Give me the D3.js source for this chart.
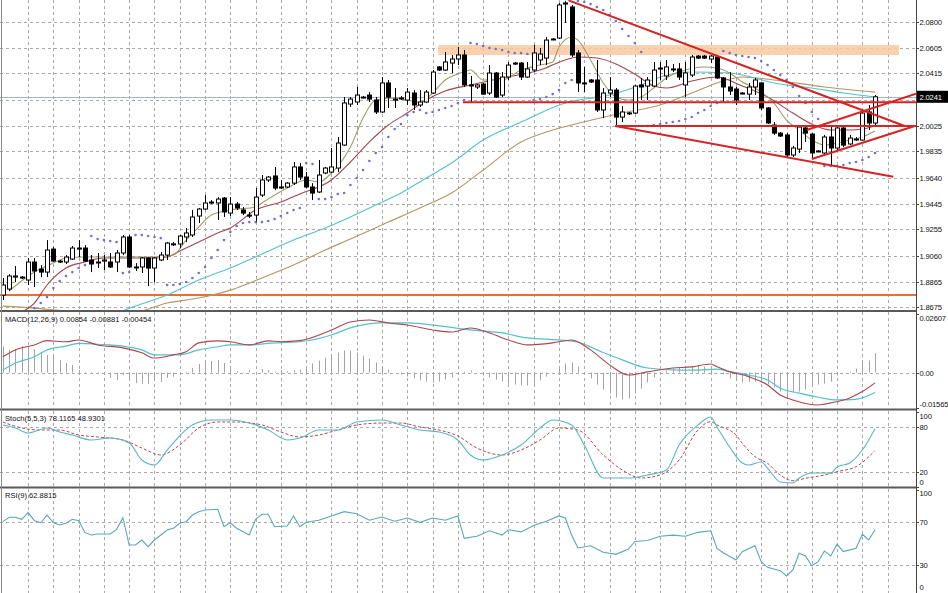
<!DOCTYPE html>
<meta charset="utf-8">
<script src="https://d3js.org/d3.v7.min.js"></script>
<style>
  body {margin: 0; background: #fff;}
  svg {display: block; font-family: "Liberation Sans", Arial, sans-serif;}
</style>
<div id="chart"></div>
<script>

// ---- price bars (daily candles, oldest first) ----
var opens = [1.8766,1.8811,1.8900,1.8900,1.8878,1.9012,1.8960,1.8937,1.9108,1.9019,1.9012,1.9034,1.9108,1.9116,1.9027,1.9012,1.9019,1.9012,1.9012,1.9079,
  1.9198,1.8975,1.8975,1.9042,1.8967,1.9027,1.9064,1.9146,1.9146,1.9198,1.9213,1.9354,1.9406,1.9458,1.9451,1.9488,1.9376,1.9443,1.9399,1.9361,
  1.9361,1.9510,1.9622,1.9652,1.9570,1.9570,1.9599,1.9719,1.9644,1.9570,1.9533,1.9674,1.9681,1.9711,1.9882,2.0187,2.0202,2.0239,2.0254,2.0217,
  2.0128,2.0344,2.0224,2.0232,2.0217,2.0269,2.0180,2.0202,2.0269,2.0463,2.0440,2.0492,2.0522,2.0552,2.0329,2.0314,2.0336,2.0269,2.0418,2.0254,
  2.0388,2.0492,2.0492,2.0388,2.0440,2.0515,2.0529,2.0671,2.0678,2.0939,2.0909,2.0567,2.0344,2.0366,2.0366,2.0143,2.0269,2.0291,2.0090,2.0120,
  2.0120,2.0329,2.0321,2.0321,2.0455,2.0396,2.0448,2.0448,2.0329,2.0403,2.0544,2.0544,2.0522,2.0537,2.0381,2.0314,2.0299,2.0269,2.0261,2.0314,
  2.0344,2.0158,2.0031,1.9971,1.9957,1.9808,1.9852,2.0009,1.9964,1.9838,1.9823,1.9942,1.9860,2.0009,1.9890,1.9927,1.9919,2.0128,2.0046];
var highs = [1.8893,1.8922,1.8982,1.8908,1.9042,1.9042,1.8989,1.9175,1.9123,1.9027,1.9064,1.9131,1.9175,1.9138,1.9064,1.9079,1.9064,1.9079,1.9101,1.9213,
  1.9213,1.9004,1.9049,1.9049,1.9049,1.9086,1.9161,1.9161,1.9213,1.9265,1.9399,1.9414,1.9510,1.9473,1.9495,1.9495,1.9495,1.9458,1.9421,1.9384,
  1.9562,1.9659,1.9652,1.9719,1.9622,1.9607,1.9756,1.9748,1.9681,1.9599,1.9771,1.9719,1.9860,1.9942,2.0239,2.0239,2.0314,2.0247,2.0276,2.0239,
  2.0388,2.0366,2.0306,2.0247,2.0306,2.0291,2.0291,2.0291,2.0440,2.0470,2.0574,2.0552,2.0611,2.0589,2.0396,2.0336,2.0344,2.0477,2.0425,2.0425,
  2.0500,2.0500,2.0500,2.0500,2.0626,2.0604,2.0686,2.0678,2.0939,2.0954,2.0924,2.0589,2.0463,2.0373,2.0515,2.0306,2.0388,2.0306,2.0172,2.0128,
  2.0329,2.0381,2.0388,2.0500,2.0500,2.0515,2.0485,2.0492,2.0500,2.0552,2.0552,2.0552,2.0552,2.0552,2.0388,2.0425,2.0314,2.0276,2.0344,2.0381,
  2.0351,2.0165,2.0053,1.9979,1.9971,1.9875,2.0024,2.0016,1.9971,1.9845,1.9957,2.0016,2.0031,2.0024,1.9957,1.9942,2.0128,2.0180,2.0254];
var lows = [1.8729,1.8796,1.8863,1.8885,1.8841,1.8826,1.8900,1.8900,1.9012,1.9004,1.8997,1.9027,1.9049,1.9012,1.8937,1.8967,1.8952,1.8967,1.8937,1.9064,
  1.8967,1.8945,1.8930,1.8833,1.8863,1.9019,1.9027,1.9131,1.9116,1.9161,1.9198,1.9302,1.9399,1.9443,1.9324,1.9347,1.9354,1.9399,1.9361,1.9339,
  1.9302,1.9495,1.9607,1.9547,1.9555,1.9562,1.9585,1.9622,1.9562,1.9473,1.9525,1.9666,1.9674,1.9681,1.9875,2.0165,2.0180,2.0232,2.0202,2.0113,
  2.0120,2.0158,2.0158,2.0217,2.0180,2.0143,2.0165,2.0195,2.0261,2.0433,2.0433,2.0418,2.0477,2.0314,2.0202,2.0299,2.0254,2.0254,2.0232,2.0239,
  2.0366,2.0477,2.0366,2.0381,2.0425,2.0477,2.0477,2.0663,2.0671,2.0790,2.0537,2.0276,2.0276,2.0344,2.0128,2.0083,2.0239,2.0016,2.0053,2.0106,
  2.0113,2.0217,2.0217,2.0314,2.0366,2.0366,2.0425,2.0366,2.0239,2.0388,2.0522,2.0522,2.0492,2.0373,2.0195,2.0254,2.0180,2.0261,2.0217,2.0254,
  2.0143,2.0038,1.9957,1.9942,1.9793,1.9793,1.9823,1.9905,1.9778,1.9830,1.9815,1.9734,1.9845,1.9867,1.9882,1.9912,1.9915,1.9994,2.0031];
var closes = [1.8841,1.8908,1.8908,1.8893,1.9012,1.8945,1.8937,1.9101,1.9019,1.9012,1.9049,1.9116,1.9116,1.9019,1.8997,1.9010,1.9027,1.8975,1.9079,1.9198,
  1.8975,1.8973,1.9042,1.8967,1.9042,1.9064,1.9153,1.9147,1.9205,1.9228,1.9347,1.9406,1.9451,1.9457,1.9480,1.9384,1.9443,1.9414,1.9376,1.9360,
  1.9495,1.9622,1.9644,1.9562,1.9569,1.9599,1.9719,1.9644,1.9570,1.9525,1.9659,1.9711,1.9719,1.9897,2.0195,2.0224,2.0254,2.0238,2.0224,2.0128,
  2.0344,2.0239,2.0223,2.0231,2.0276,2.0180,2.0202,2.0276,2.0425,2.0440,2.0500,2.0522,2.0552,2.0329,2.0328,2.0329,2.0261,2.0418,2.0239,2.0388,
  2.0477,2.0491,2.0388,2.0448,2.0567,2.0559,2.0663,2.0670,2.0924,2.0931,2.0552,2.0344,2.0343,2.0351,2.0143,2.0269,2.0291,2.0090,2.0128,2.0121,
  2.0321,2.0314,2.0366,2.0440,2.0454,2.0463,2.0447,2.0388,2.0418,2.0537,2.0529,2.0529,2.0544,2.0381,2.0314,2.0284,2.0217,2.0268,2.0314,2.0366,
  2.0158,2.0046,1.9971,1.9949,1.9808,1.9860,2.0016,1.9971,1.9823,1.9837,1.9942,1.9860,2.0009,1.9882,1.9934,1.9926,2.0120,2.0046,2.0241];

// parabolic SAR, one dot per bar
var sar = [1.8506,1.8543,1.8581,1.8610,1.8640,1.8669,1.8707,1.8751,1.8818,1.8870,1.8908,1.8937,1.8967,1.8989,1.9205,1.9183,1.9175,1.9168,1.9161,1.8930,
  1.8937,1.9213,1.9213,1.9205,1.9198,1.9190,1.8841,1.8841,1.8848,1.8863,1.8893,1.8930,1.8975,1.9042,1.9101,1.9175,1.9235,1.9280,1.9302,1.9309,
  1.9309,1.9309,1.9317,1.9332,1.9354,1.9376,1.9399,1.9414,1.9748,1.9741,1.9480,1.9480,1.9495,1.9518,1.9525,1.9585,1.9637,1.9696,1.9763,1.9823,
  1.9867,1.9942,2.0001,2.0038,2.0106,2.0128,2.0143,2.0120,2.0128,2.0143,2.0158,2.0172,2.0195,2.0217,2.0641,2.0634,2.0619,2.0604,2.0597,2.0589,
  2.0574,2.0567,2.0567,2.0559,2.0217,2.0224,2.0239,2.0261,2.0291,2.0344,2.0366,2.0954,2.0946,2.0931,2.0909,2.0887,2.0849,2.0805,2.0745,2.0693,
  2.0641,2.0574,2.0024,2.0031,2.0038,2.0046,2.0053,2.0061,2.0076,2.0091,2.0120,2.0143,2.0172,2.0195,2.0582,2.0567,2.0552,2.0544,2.0537,2.0529,
  2.0507,2.0477,2.0440,2.0403,2.0366,2.0314,2.0247,2.0195,2.0128,2.0076,1.9726,1.9726,1.9726,1.9734,1.9748,1.9756,1.9771,1.9793,1.9823];

// moving averages, read as [bar, price]
var maFast = [[1,1.8796],[5,1.8937],[8,1.9004],[10,1.9042],[13,1.9049],[16,1.9049],[20,1.9049],[24,1.9049],[27,1.9064],[29,1.9175],[31,1.9272],[33,1.9361],
  [36,1.9399],[40,1.9421],[41,1.9451],[45,1.9562],[48,1.9622],[50,1.9607],[52,1.9674],[55,1.9867],[57,2.0083],[59,2.0217],[62,2.0232],[66,2.0202],
  [68,2.0269],[70,2.0366],[72,2.0410],[74,2.0440],[76,2.0366],[79,2.0366],[82,2.0440],[85,2.0477],[87,2.0500],[88,2.0611],[90,2.0686],[91,2.0663],
  [93,2.0515],[95,2.0344],[97,2.0239],[99,2.0217],[101,2.0239],[103,2.0306],[105,2.0381],[107,2.0425],[111,2.0463],[113,2.0455],[115,2.0418],
  [117,2.0351],[119,2.0306],[122,2.0195],[124,2.0068],[126,1.9994],[128,1.9919],[130,1.9882],[132,1.9897],[134,1.9919],[136,1.9942],[138,1.9986]];
var maMid = [[0,1.8595],[3,1.8640],[5,1.8707],[7,1.8841],[10,1.8967],[13,1.9012],[16,1.9042],[20,1.9042],[24,1.9042],[26,1.9049],[28,1.9094],[31,1.9161],
  [34,1.9228],[36,1.9265],[40,1.9399],[44,1.9458],[47,1.9518],[52,1.9622],[55,1.9756],[58,1.9905],[61,2.0031],[64,2.0120],[67,2.0217],[70,2.0284],
  [74,2.0329],[79,2.0381],[85,2.0440],[89,2.0515],[91,2.0537],[94,2.0529],[97,2.0485],[100,2.0410],[103,2.0321],[105,2.0306],[109,2.0358],[113,2.0388],
  [117,2.0321],[121,2.0239],[125,2.0120],[128,2.0038],[131,1.9994],[134,1.9994],[136,2.0001],[138,2.0024]];
var maSlow = [[0,1.8506],[10,1.8543],[17,1.8618],[21,1.8684],[26,1.8766],[31,1.8878],[36,1.8967],[41,1.9071],[46,1.9175],[51,1.9265],[55,1.9347],
  [59,1.9436],[63,1.9525],[67,1.9637],[71,1.9748],[76,1.9919],[82,2.0053],[89,2.0195],[96,2.0254],[101,2.0329],[104,2.0388],[109,2.0425],[115,2.0418],
  [117,2.0403],[122,2.0344],[128,2.0306],[133,2.0269],[138,2.0239]];
var maLong = [[0,1.8684],[5,1.8669],[10,1.8648],[16,1.8633],[21,1.8640],[26,1.8707],[31,1.8744],[36,1.8803],[41,1.8893],[46,1.8989],[51,1.9101],
  [55,1.9183],[61,1.9309],[66,1.9414],[71,1.9525],[76,1.9696],[82,1.9905],[87,1.9994],[90,2.0031],[98,2.0120],[104,2.0180],[109,2.0269],[113,2.0344],
  [117,2.0388],[122,2.0366],[130,2.0314],[138,2.0276]];

// drawn objects
var trendLines = [
  [[89.5,2.0958],[142.7,2.0024]],
  [[72.8,2.0200],[144.5,2.0200]],
  [[96.9,2.0024],[144.5,2.0024]],
  [[96.9,2.0024],[140.9,1.9646]],
  [[127.2,1.9994],[144.5,2.0264]],
  [[128.0,1.9778],[144.3,2.0024]]
];
var zoneBars = [68.9, 141.8], zonePrices = [2.0552, 2.0626];
var supportLevel = 1.8766;
var lastPrice = 2.0241;
var priceTicks = [2.0800,2.0605,2.0415,2.0220,2.0025,1.9835,1.9640,1.9445,1.9255,1.9060,1.8865,1.8675];

// MACD(12,26,9)
var macdHist = [0.0115,0.0100,0.0104,0.0117,0.0117,0.0104,0.0091,0.0078,0.0078,0.0056,0.0042,0.0034,0.0011,0.0003,-0.0002,-0.0002,-0.0011,-0.0024,-0.0033,-0.0011,
  -0.0024,-0.0046,-0.0050,-0.0050,-0.0037,-0.0041,-0.0024,-0.0019,-0.0011,0.0003,0.0020,0.0038,0.0047,0.0051,0.0056,0.0042,0.0020,0.0007,-0.0002,0.0011,
  0.0003,0.0016,0.0011,0.0003,0.0011,0.0007,0.0011,0.0013,0.0026,0.0040,0.0053,0.0066,0.0079,0.0088,0.0097,0.0097,0.0088,0.0075,0.0062,0.0044,
  0.0026,0.0013,0,-0.0009,-0.0018,-0.0026,-0.0035,-0.0040,-0.0044,-0.0040,-0.0031,-0.0022,-0.0009,0.0004,0.0009,0,-0.0013,-0.0022,-0.0031,-0.0040,
  -0.0049,-0.0053,-0.0057,-0.0057,-0.0049,-0.0035,-0.0018,0,0.0022,0.0040,0.0044,0.0026,0,-0.0026,-0.0053,-0.0075,-0.0093,-0.0110,-0.0119,-0.0115,
  -0.0093,-0.0071,-0.0044,-0.0022,-0.0004,0.0009,0.0018,0.0022,0.0022,0.0026,0.0031,0.0026,0.0013,0,-0.0009,-0.0026,-0.0035,-0.0044,-0.0040,-0.0040,
  -0.0044,-0.0053,-0.0066,-0.0084,-0.0110,-0.0088,-0.0084,-0.0075,-0.0062,-0.0053,-0.0049,-0.0040,-0.0013,0,0.0004,0.0018,0.0053,0.0053,0.00854];
var macdMain = [[0,0.0070],[2,0.0100],[5,0.0122],[7,0.0141],[10,0.0136],[12,0.0144],[15,0.0122],[19,0.0109],[22,0.0087],[24,0.0064],[27,0.0078],[29,0.0092],
  [31,0.0131],[34,0.0140],[36,0.0136],[39,0.0122],[42,0.0140],[44,0.0136],[47,0.0141],[52,0.0188],[55,0.0223],[58,0.0232],[61,0.0219],[64,0.0210],
  [68,0.0188],[71,0.0179],[74,0.0197],[77,0.0175],[80,0.0144],[83,0.0122],[87,0.0131],[90,0.0144],[93,0.0100],[96,0.0034],[99,-0.0011],[102,0.0003],
  [106,0.0020],[109,0.0025],[112,0.0038],[113,0.0026],[115,0.0004],[118,-0.0018],[121,-0.0055],[123,-0.0099],[125,-0.0121],[129,-0.0143],[131,-0.0134],
  [134,-0.0112],[136,-0.0084],[138,-0.00454]];
var macdSignal = [[0,0.0011],[2,0.0042],[5,0.0070],[7,0.0100],[10,0.0117],[12,0.0129],[15,0.0125],[19,0.0117],[22,0.0100],[24,0.0078],[28,0.0078],
  [31,0.0100],[34,0.0114],[36,0.0122],[39,0.0122],[42,0.0129],[47,0.0136],[52,0.0166],[55,0.0197],[60,0.0219],[64,0.0219],[69,0.0206],[74,0.0188],
  [79,0.0175],[83,0.0153],[88,0.0144],[91,0.0135],[94,0.0100],[98,0.0056],[102,0.0020],[107,0.0011],[110,0.0011],[113,0.0015],[115,0.0004],
  [118,-0.0011],[121,-0.0033],[123,-0.0069],[126,-0.0091],[129,-0.0109],[132,-0.0121],[135,-0.0118],[138,-0.00881]];

// Stochastic(5,5,3)
var stochMain = [[0,83.1],[2,79.1],[4,72.4],[7,79.1],[9,73.7],[11,69.7],[14,63.1],[17,65.7],[20,59.1],[22,36.4],[24,29.7],[26,49.7],[30,83.1],[33,89.7],
  [36,89.7],[39,85.7],[42,76.4],[45,63.1],[47,65.7],[50,76.4],[53,76.4],[56,87.1],[60,89.7],[63,83.1],[66,76.4],[69,73.7],[72,63.1],[74,43.1],[76,36.4],
  [79,43.1],[82,56.4],[85,79.1],[87,89.7],[90,83.1],[92,56.4],[95,12.4],[97,12.4],[99,12.4],[102,16.4],[105,23.1],[107,56.4],[110,83.1],[112,93.7],
  [113,80.4],[115,53.7],[117,32.4],[118,29.7],[120,33.7],[121,25.7],[123,7.1],[125,5.7],[126,12.4],[128,19.1],[131,19.1],[132,27.1],[134,32.4],
  [136,49.7],[138,78.1165]];
var stochSignal = [[0,87.1],[3,79.1],[6,76.4],[9,76.4],[12,69.7],[15,67.1],[19,63.1],[22,52.4],[25,43.1],[28,56.4],[31,79.1],[34,87.1],[37,87.1],[41,83.1],
  [44,73.7],[47,67.1],[50,69.7],[53,76.4],[56,83.1],[60,85.7],[63,85.7],[66,80.4],[69,76.4],[72,68.4],[75,52.4],[79,43.1],[82,49.7],[85,63.1],[88,79.1],
  [91,76.4],[95,43.1],[98,23.1],[101,12.4],[104,16.4],[107,36.4],[110,76.4],[112,87.5],[113,83.1],[116,69.7],[117,58.7],[119,40.9],[121,32.0],
  [123,16.4],[125,8.8],[127,12.0],[130,16.4],[132,20.8],[135,27.5],[138,48.9301]];

// RSI(9)
var rsi = [[0,70.6],[1,74.7],[2,74.7],[3,72.8],[4,79.0],[5,71.5],[6,69.6],[7,76.8],[8,69.6],[9,67.5],[10,69.1],[11,72.8],[12,71.5],[13,60.3],[14,58.1],
  [15,59.0],[17,59.0],[18,63.4],[19,74.3],[20,48.7],[21,48.7],[22,53.4],[23,47.1],[24,53.4],[26,62.8],[27,64.4],[28,69.1],[29,70.6],[30,76.8],[31,79.9],
  [32,81.5],[34,82.2],[35,65.9],[36,69.6],[37,64.4],[39,58.1],[40,72.8],[41,77.5],[42,77.5],[43,65.9],[45,66.5],[46,75.9],[47,65.9],[48,70],[50,72],
  [52,76],[54,80],[56,78],[58,72],[60,75],[62,71],[64,74],[66,70],[68,74],[70,72],[72,76],[73,55],[75,57],[77,62],[79,58],[80,63],[82,61],[84,67],
  [86,71],[88,76],[89,74],[90,58],[91,46],[93,48],[95,42],[97,40],[99,45],[100,52],[102,53],[104,57],[106,58],[108,57],[110,60.6],[112,62.1],
  [113,45.6],[114,41.5],[116,34.7],[117,42.5],[119,48.1],[120,33.1],[121,27.8],[123,24.7],[124,19.7],[125,25.3],[126,41.0],[127,38.4],[128,29.3],
  [129,33.1],[130,43.1],[131,38.4],[132,49.4],[133,42.5],[135,45.6],[136,58.8],[137,53.4],[138,62.8815]];

// ---- layout ----
var W = 948, H = 593, axisX = 916;
var svg = d3.select("#chart").append("svg")
  .attr("width", W).attr("height", H);

var x = d3.scaleLinear().domain([0, 138]).range([2.8, 875]);
var yMain = d3.scaleLinear().domain([1.8655, 2.0961]).range([310, 0]);
var yMacd = d3.scaleLinear().domain([-0.01565, 0.02607]).range([408, 313.5]);
var yStoch = d3.scaleLinear().domain([0, 100]).range([487.3, 412.3]);
var yRsi = d3.scaleLinear().domain([0, 100]).range([597, 490.3]);

var panels = [
  {id: "pMain", top: 0, bottom: 310},
  {id: "pMacd", top: 312, bottom: 408},
  {id: "pStoch", top: 411, bottom: 486},
  {id: "pRsi", top: 489, bottom: 593}
];
var defs = svg.append("defs");
panels.forEach(function(p) {
  defs.append("clipPath").attr("id", p.id)
    .append("rect").attr("x", 0).attr("y", p.top).attr("width", axisX).attr("height", p.bottom - p.top);
});

var gridColor = "#a9a9a9";
function crisp(v) { return Math.round(v) + 0.5; }

// vertical grid, every 4 bars
var gridBars = d3.range(4, 141, 4);
panels.forEach(function(p) {
  svg.append("g").selectAll("line").data(gridBars).enter().append("line")
    .attr("x1", function(d) { return crisp(x(d)); })
    .attr("x2", function(d) { return crisp(x(d)); })
    .attr("y1", p.top).attr("y2", p.bottom)
    .attr("stroke", gridColor).attr("stroke-dasharray", "3,3");
});

// horizontal grid
function hGrid(vals, scale) {
  svg.append("g").selectAll("line").data(vals).enter().append("line")
    .attr("x1", 0).attr("x2", axisX)
    .attr("y1", function(d) { return crisp(scale(d)); })
    .attr("y2", function(d) { return crisp(scale(d)); })
    .attr("stroke", gridColor).attr("stroke-dasharray", "3,3");
}
hGrid(priceTicks, yMain);
hGrid([0], yMacd);
hGrid([80, 20], yStoch);
hGrid([70, 30], yRsi);

// ---- main panel ----
var main = svg.append("g").attr("clip-path", "url(#pMain)");

// resistance zone
main.append("rect")
  .attr("x", x(zoneBars[0])).attr("width", x(zoneBars[1]) - x(zoneBars[0]))
  .attr("y", yMain(zonePrices[1])).attr("height", yMain(zonePrices[0]) - yMain(zonePrices[1]))
  .attr("fill", "#f8c9a0").attr("opacity", 0.85);

// support line and last price line
main.append("line").attr("x1", 0).attr("x2", axisX)
  .attr("y1", yMain(supportLevel)).attr("y2", yMain(supportLevel))
  .attr("stroke", "#e2703a").attr("stroke-width", 2);
main.append("line").attr("x1", 0).attr("x2", axisX)
  .attr("y1", crisp(yMain(lastPrice))).attr("y2", crisp(yMain(lastPrice)))
  .attr("stroke", "#a9b3bd");

// moving averages
var maLine = d3.line()
  .x(function(d) { return x(d[0]); })
  .y(function(d) { return yMain(d[1]); })
  .curve(d3.curveMonotoneX);
[[maLong, "#b89463"], [maSlow, "#52c2cc"], [maMid, "#a2464c"], [maFast, "#9c9c6c"]].forEach(function(m) {
  main.append("path").datum(m[0]).attr("d", maLine)
    .attr("fill", "none").attr("stroke", m[1]).attr("stroke-width", 1.1);
});

// candles
var bars = d3.range(opens.length);
main.append("g").selectAll("line").data(bars).enter().append("line")
  .attr("x1", function(i) { return crisp(x(i)); })
  .attr("x2", function(i) { return crisp(x(i)); })
  .attr("y1", function(i) { return yMain(highs[i]); })
  .attr("y2", function(i) { return yMain(lows[i]); })
  .attr("stroke", "#000");
main.append("g").selectAll("rect").data(bars).enter().append("rect")
  .attr("x", function(i) { return Math.round(x(i)) - 1.5; })
  .attr("width", 4)
  .attr("y", function(i) { return yMain(Math.max(opens[i], closes[i])); })
  .attr("height", function(i) { return Math.max(1, Math.abs(yMain(opens[i]) - yMain(closes[i]))); })
  .attr("fill", function(i) { return closes[i] > opens[i] ? "#fff" : "#000"; })
  .attr("stroke", "#000").attr("stroke-width", 1);

// parabolic SAR
main.append("g").selectAll("circle").data(bars).enter().append("circle")
  .attr("cx", function(i) { return x(i); })
  .attr("cy", function(i) { return yMain(sar[i]); })
  .attr("r", 1.3)
  .attr("fill", "#7072d2");

// trend lines
main.append("g").selectAll("line").data(trendLines).enter().append("line")
  .attr("x1", function(d) { return x(d[0][0]); })
  .attr("y1", function(d) { return yMain(d[0][1]); })
  .attr("x2", function(d) { return x(d[1][0]); })
  .attr("y2", function(d) { return yMain(d[1][1]); })
  .attr("stroke", "#d42424").attr("stroke-width", 2);

// ---- MACD ----
var pm = svg.append("g").attr("clip-path", "url(#pMacd)");
pm.append("g").selectAll("line").data(bars).enter().append("line")
  .attr("x1", function(i) { return crisp(x(i)); })
  .attr("x2", function(i) { return crisp(x(i)); })
  .attr("y1", yMacd(0))
  .attr("y2", function(i) { return yMacd(macdHist[i]); })
  .attr("stroke", "#a4a4a4");
var macdPath = d3.line()
  .x(function(d) { return x(d[0]); })
  .y(function(d) { return yMacd(d[1]); })
  .curve(d3.curveMonotoneX);
pm.append("path").datum(macdSignal).attr("d", macdPath)
  .attr("fill", "none").attr("stroke", "#52c2cc").attr("stroke-width", 1.2);
pm.append("path").datum(macdMain).attr("d", macdPath)
  .attr("fill", "none").attr("stroke", "#b0444c").attr("stroke-width", 1.1);

// ---- Stochastic ----
var ps = svg.append("g").attr("clip-path", "url(#pStoch)");
var stochPath = d3.line()
  .x(function(d) { return x(d[0]); })
  .y(function(d) { return yStoch(d[1]); })
  .curve(d3.curveMonotoneX);
ps.append("path").datum(stochSignal).attr("d", stochPath)
  .attr("fill", "none").attr("stroke", "#c0444c").attr("stroke-dasharray", "3,2");
ps.append("path").datum(stochMain).attr("d", stochPath)
  .attr("fill", "none").attr("stroke", "#58b8c0").attr("stroke-width", 1.1);

// ---- RSI ----
var pr = svg.append("g").attr("clip-path", "url(#pRsi)");
pr.append("path").datum(rsi)
  .attr("d", d3.line()
    .x(function(d) { return x(d[0]); })
    .y(function(d) { return yRsi(d[1]); }))
  .attr("fill", "none").attr("stroke", "#58a8b8").attr("stroke-width", 1.1);

// ---- frame: separators, axis line ----
[311, 409.5, 487.5].forEach(function(yy) {
  svg.append("line").attr("x1", 0).attr("x2", axisX).attr("y1", yy).attr("y2", yy)
    .attr("stroke", "#5a5a5a").attr("stroke-width", 2.2);
});
svg.append("line").attr("x1", 1.5).attr("x2", 1.5).attr("y1", 0).attr("y2", H)
  .attr("stroke", "#8a8a8a");
svg.append("line").attr("x1", axisX + 0.5).attr("x2", axisX + 0.5).attr("y1", 0).attr("y2", H)
  .attr("stroke", "#444");

// ---- right axis labels ----
// the label under the last-price box is hidden, as on the terminal
function axisLabels(vals, scale, fmt, yOff) {
  var g = svg.append("g");
  g.selectAll("line").data(vals).enter().append("line")
    .attr("x1", axisX).attr("x2", axisX + 3)
    .attr("y1", function(d) { return crisp(scale(d)); })
    .attr("y2", function(d) { return crisp(scale(d)); })
    .attr("stroke", "#444");
  g.selectAll("text").data(vals.filter(function(d) { return d !== 2.0220; })).enter().append("text")
    .attr("x", axisX + 3.5)
    .attr("y", function(d) { return scale(d) + 3 + (yOff ? yOff[vals.indexOf(d)] : 0); })
    .attr("font-size", "7.6px").attr("letter-spacing", "-0.15px").attr("fill", "#111")
    .text(fmt);
}
axisLabels(priceTicks, yMain, function(d) { return d.toFixed(4); });
axisLabels([0.02607, 0, -0.01565], yMacd, function(d) { return d === 0 ? "0.00" : d.toFixed(5); }, [4, 0, -4]);
axisLabels([100, 80, 20, 0], yStoch, function(d) { return d; }, [4, 0, 0, -5]);
axisLabels([100, 70, 30, 0], yRsi, function(d) { return d; }, [3, 0, 0, -10]);

// last price box
svg.append("rect").attr("x", axisX + 1).attr("y", yMain(lastPrice) - 6)
  .attr("width", 31).attr("height", 12).attr("fill", "#000");
svg.append("text").attr("x", axisX + 3.5).attr("y", yMain(lastPrice) + 3)
  .attr("font-size", "7.6px").attr("letter-spacing", "-0.15px").attr("fill", "#fff").text(lastPrice.toFixed(4));

// ---- indicator titles ----
var titles = [
  ["MACD(12,26,9) 0.00854 -0.00881 -0.00454", 322],
  ["Stoch(5,5,3) 78.1165 48.9301", 421],
  ["RSI(9) 62.8815", 498]
];
svg.append("g").selectAll("text").data(titles).enter().append("text")
  .attr("x", 5).attr("y", function(d) { return d[1]; })
  .attr("font-size", "7.6px").attr("fill", "#111")
  .text(function(d) { return d[0]; });

</script>
